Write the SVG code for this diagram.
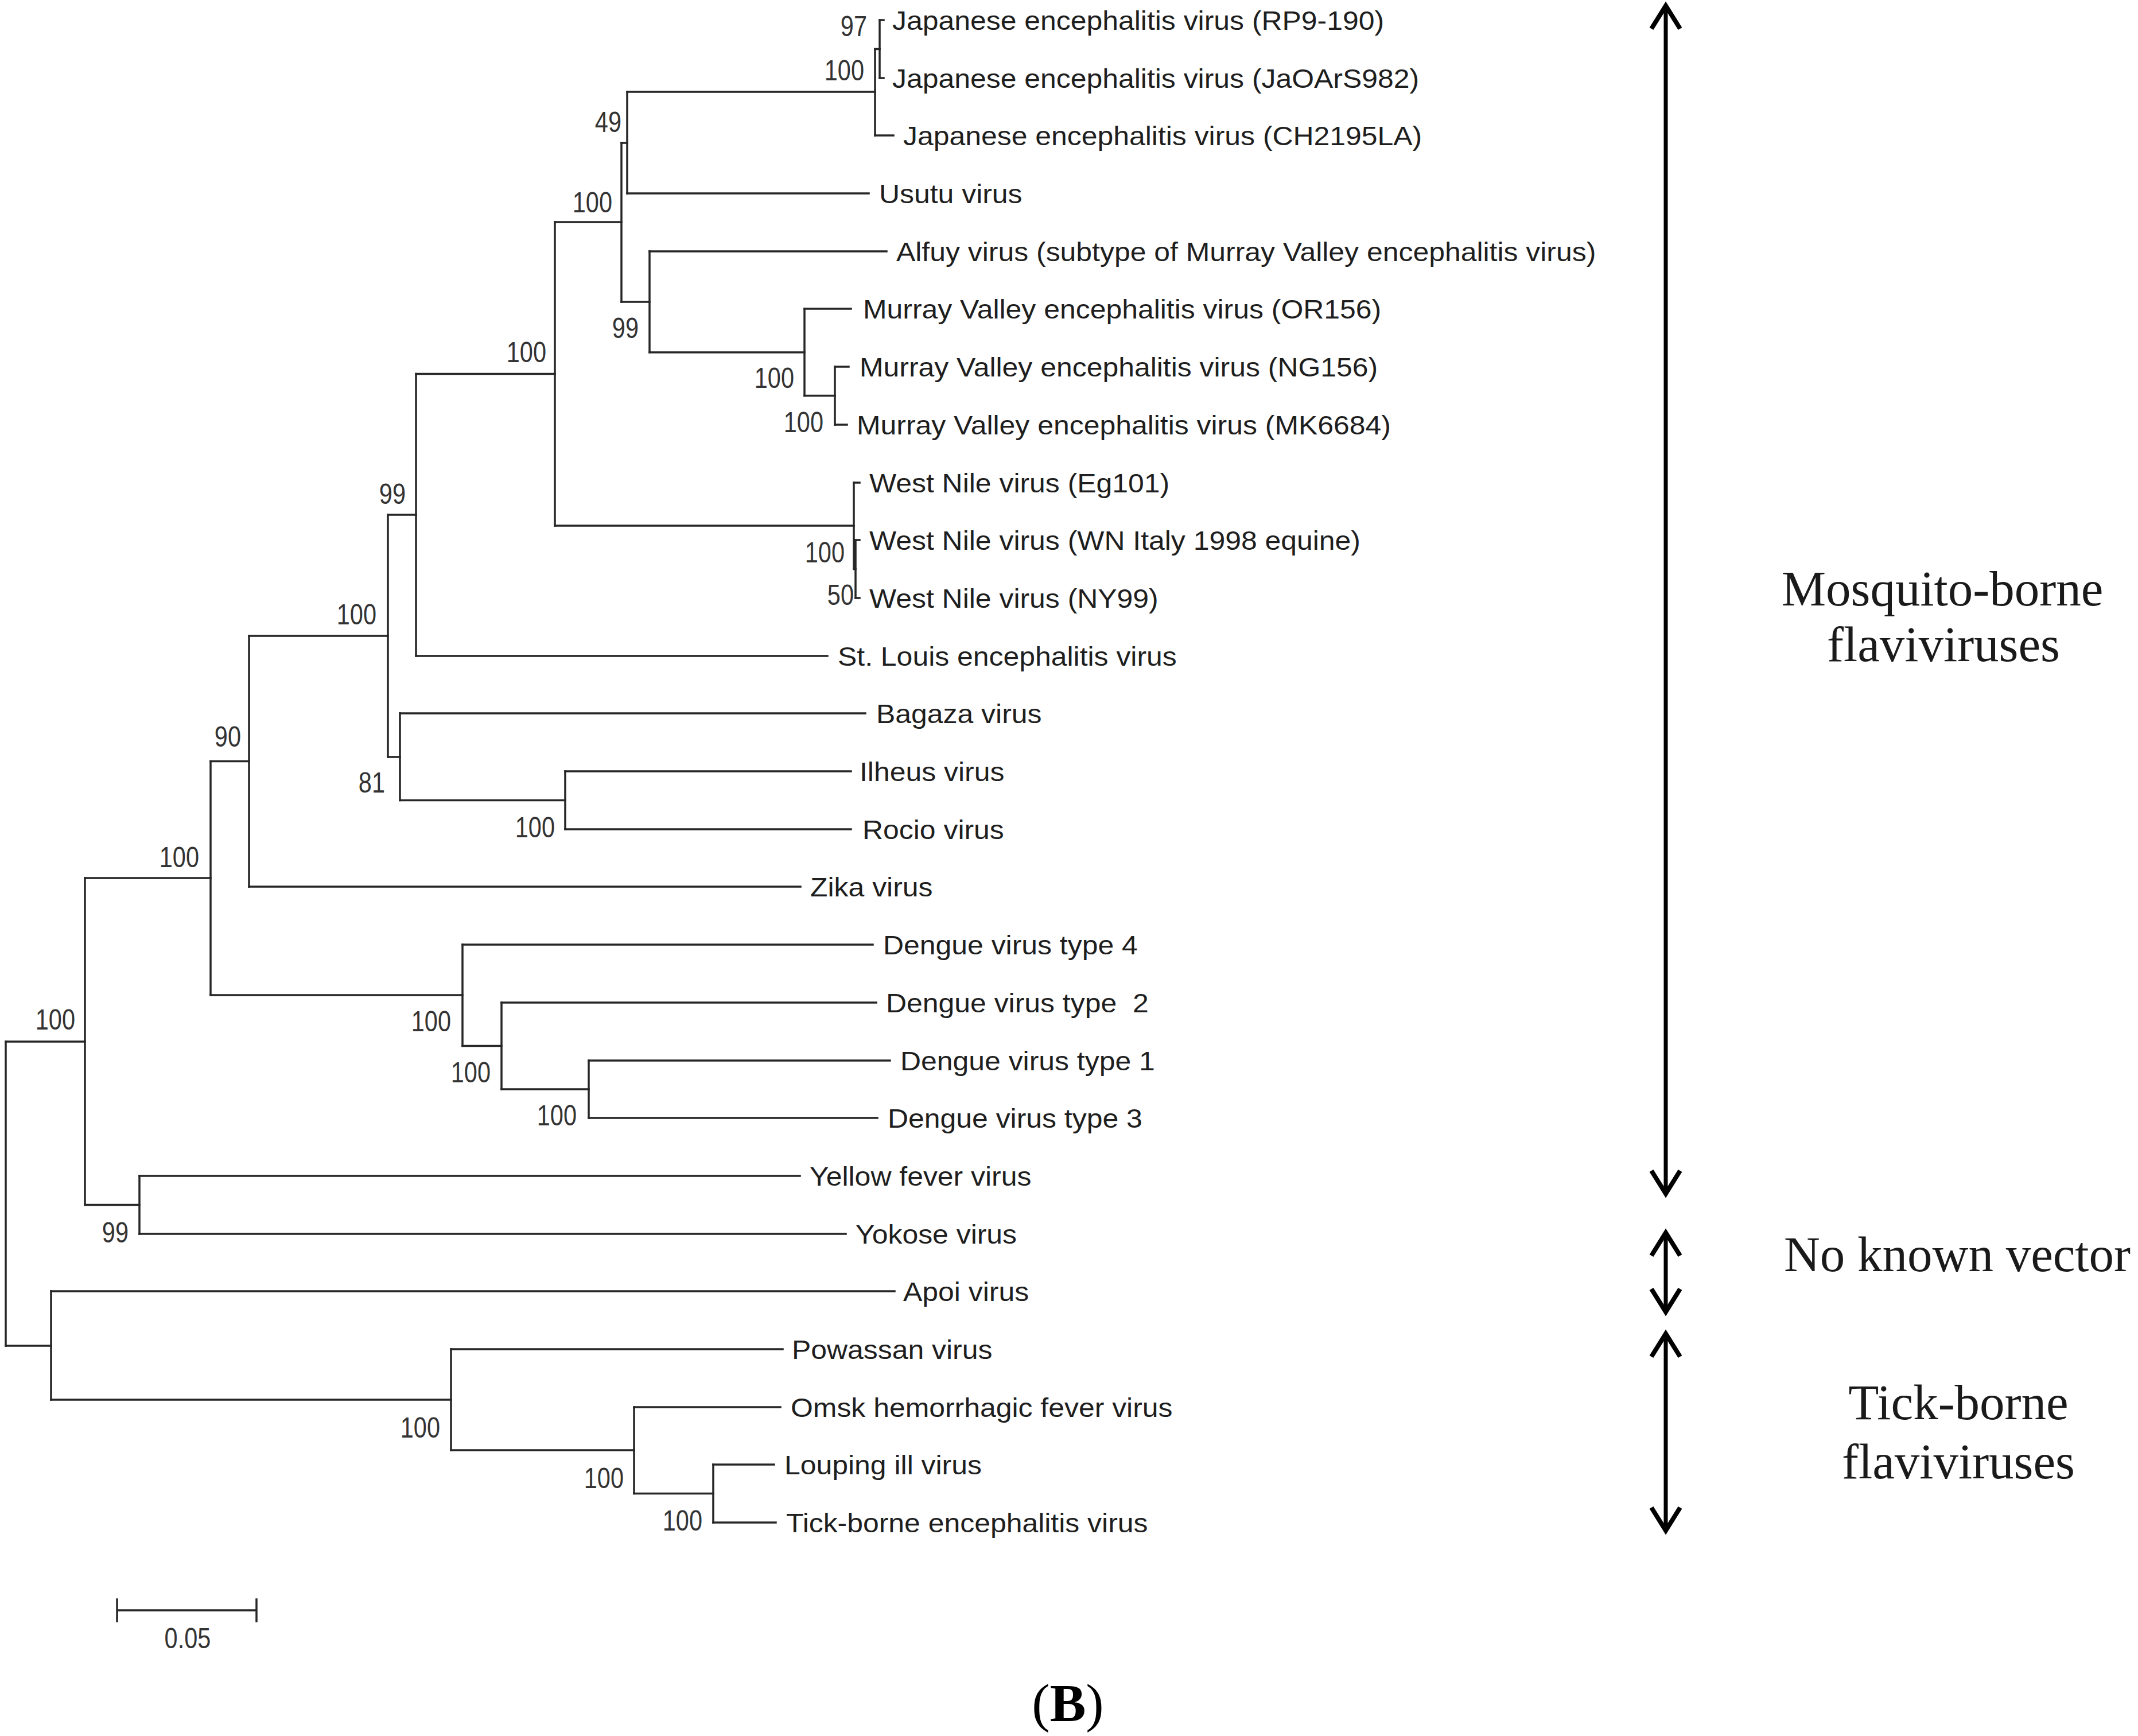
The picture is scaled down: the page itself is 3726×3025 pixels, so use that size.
<svg xmlns="http://www.w3.org/2000/svg" width="3726" height="3025" viewBox="0 0 3726 3025">
<style>
.br{fill:none;stroke:#262626;stroke-width:3.5;stroke-linecap:square}
.leaf{font-family:"Liberation Sans",Arial,sans-serif;font-size:46px;fill:#1e1e1e;white-space:pre}
.bs{font-family:"Liberation Sans",Arial,sans-serif;font-size:50px;fill:#333;text-anchor:end}
.grp{font-family:"Liberation Serif","Times New Roman",serif;font-size:87px;fill:#1a1a1a;text-anchor:middle}
.shaft{fill:none;stroke:#000;stroke-width:7}
.head{fill:none;stroke:#000;stroke-width:8;stroke-linejoin:miter;stroke-miterlimit:10}
</style>
<rect width="3726" height="3025" fill="#fff"/>
<g id="connectors">
<path class="br" d="M10,1815V2345 M148,1530V2099.5 M367,1326.5V1734 M434,1108V1545 M676,897V1319 M725,651.5V1143 M967,387V916 M1083,249V526 M1093,160V337 M1525,85.5V236 M1533,35V136 M1132,438V614 M1402,538V689.5 M1455,639V740 M1488,841V991.5 M1491,941V1042 M697,1243V1394.5 M985,1344V1445 M806,1646V1822.5 M874,1747V1898 M1026,1848V1948 M243,2049V2150 M89,2250V2439 M786,2351V2527 M1105,2452V2602.5 M1243,2552V2653"/>
<path class="br" d="M10,1815H148 M10,2345H89 M148,1530H367 M148,2099.5H243 M367,1326.5H434 M367,1734H806 M434,1108H676 M434,1545H1395 M676,897H725 M676,1319H697 M725,651.5H967 M725,1143H1442 M967,387H1083 M967,916H1488 M1083,249H1093 M1083,526H1132 M1093,160H1525 M1093,337H1514 M1525,85.5H1533 M1525,236H1557 M1533,35H1540 M1533,136H1540 M1132,438H1545 M1132,614H1402 M1402,538H1483 M1402,689.5H1455 M1455,639H1479 M1455,740H1476 M1488,841H1498 M1488,991.5H1491 M1491,941H1498 M1491,1042H1498 M697,1243H1508 M697,1394.5H985 M985,1344H1483 M985,1445H1483 M806,1646H1521 M806,1822.5H874 M874,1747H1527 M874,1898H1026 M1026,1848H1551 M1026,1948H1529 M243,2049H1394 M243,2150H1474 M89,2250H1559 M89,2439H786 M786,2351H1364 M786,2527H1105 M1105,2452H1360 M1105,2602.5H1243 M1243,2552H1349 M1243,2653H1352"/>
</g>
<g id="leaves">
<g id="leaf-je-rp9"><text class="leaf" transform="translate(1555,52) scale(1.085,1)">Japanese encephalitis virus (RP9-190)</text></g>
<g id="leaf-je-jaoars"><text class="leaf" transform="translate(1555,153) scale(1.085,1)">Japanese encephalitis virus (JaOArS982)</text></g>
<g id="leaf-je-ch"><text class="leaf" transform="translate(1574,253) scale(1.085,1)">Japanese encephalitis virus (CH2195LA)</text></g>
<g id="leaf-usutu"><text class="leaf" transform="translate(1532,354) scale(1.085,1)">Usutu virus</text></g>
<g id="leaf-alfuy"><text class="leaf" transform="translate(1562,455) scale(1.085,1)">Alfuy virus (subtype of Murray Valley encephalitis virus)</text></g>
<g id="leaf-mve-or"><text class="leaf" transform="translate(1504,555) scale(1.085,1)">Murray Valley encephalitis virus (OR156)</text></g>
<g id="leaf-mve-ng"><text class="leaf" transform="translate(1498,656) scale(1.085,1)">Murray Valley encephalitis virus (NG156)</text></g>
<g id="leaf-mve-mk"><text class="leaf" transform="translate(1493,757) scale(1.085,1)">Murray Valley encephalitis virus (MK6684)</text></g>
<g id="leaf-wn-eg"><text class="leaf" transform="translate(1515,858) scale(1.085,1)">West Nile virus (Eg101)</text></g>
<g id="leaf-wn-it"><text class="leaf" transform="translate(1515,958) scale(1.085,1)">West Nile virus (WN Italy 1998 equine)</text></g>
<g id="leaf-wn-ny"><text class="leaf" transform="translate(1515,1059) scale(1.085,1)">West Nile virus (NY99)</text></g>
<g id="leaf-stl"><text class="leaf" transform="translate(1460,1160) scale(1.085,1)">St. Louis encephalitis virus</text></g>
<g id="leaf-bagaza"><text class="leaf" transform="translate(1527,1260) scale(1.085,1)">Bagaza virus</text></g>
<g id="leaf-ilheus"><text class="leaf" transform="translate(1498,1361) scale(1.085,1)">Ilheus virus</text></g>
<g id="leaf-rocio"><text class="leaf" transform="translate(1503,1462) scale(1.085,1)">Rocio virus</text></g>
<g id="leaf-zika"><text class="leaf" transform="translate(1412,1562) scale(1.085,1)">Zika virus</text></g>
<g id="leaf-den4"><text class="leaf" transform="translate(1539,1663) scale(1.085,1)">Dengue virus type 4</text></g>
<g id="leaf-den2"><text class="leaf" transform="translate(1544,1764) scale(1.085,1)">Dengue virus type  2</text></g>
<g id="leaf-den1"><text class="leaf" transform="translate(1569,1865) scale(1.085,1)">Dengue virus type 1</text></g>
<g id="leaf-den3"><text class="leaf" transform="translate(1547,1965) scale(1.085,1)">Dengue virus type 3</text></g>
<g id="leaf-yf"><text class="leaf" transform="translate(1411,2066) scale(1.085,1)">Yellow fever virus</text></g>
<g id="leaf-yokose"><text class="leaf" transform="translate(1491,2167) scale(1.085,1)">Yokose virus</text></g>
<g id="leaf-apoi"><text class="leaf" transform="translate(1574,2267) scale(1.085,1)">Apoi virus</text></g>
<g id="leaf-powassan"><text class="leaf" transform="translate(1380,2368) scale(1.085,1)">Powassan virus</text></g>
<g id="leaf-omsk"><text class="leaf" transform="translate(1378,2469) scale(1.085,1)">Omsk hemorrhagic fever virus</text></g>
<g id="leaf-louping"><text class="leaf" transform="translate(1367,2569) scale(1.085,1)">Louping ill virus</text></g>
<g id="leaf-tbe"><text class="leaf" transform="translate(1370,2670) scale(1.085,1)">Tick-borne encephalitis virus</text></g>
</g>
<g id="bootstrap">
<g id="n-je-sub"><text class="bs" transform="translate(1511,63) scale(0.83,1)">97</text></g>
<g id="n-je"><text class="bs" transform="translate(1506,140) scale(0.83,1)">100</text></g>
<g id="n-49"><text class="bs" transform="translate(1083,230) scale(0.83,1)">49</text></g>
<g id="n-100a"><text class="bs" transform="translate(1067,370) scale(0.83,1)">100</text></g>
<g id="n-99a"><text class="bs" transform="translate(1113,589) scale(0.83,1)">99</text></g>
<g id="n-mve"><text class="bs" transform="translate(1384,676) scale(0.83,1)">100</text></g>
<g id="n-ngmk"><text class="bs" transform="translate(1435,753) scale(0.83,1)">100</text></g>
<g id="n-100b"><text class="bs" transform="translate(952,631) scale(0.83,1)">100</text></g>
<g id="n-99b"><text class="bs" transform="translate(707,878) scale(0.83,1)">99</text></g>
<g id="n-wn"><text class="bs" transform="translate(1472,980) scale(0.83,1)">100</text></g>
<g id="n-wn-sub"><text class="bs" transform="translate(1488,1054) scale(0.83,1)">50</text></g>
<g id="n-100c"><text class="bs" transform="translate(656,1088) scale(0.83,1)">100</text></g>
<g id="n-81"><text class="bs" transform="translate(671,1381) scale(0.83,1)">81</text></g>
<g id="n-ir"><text class="bs" transform="translate(967,1459) scale(0.83,1)">100</text></g>
<g id="n-90"><text class="bs" transform="translate(420,1301) scale(0.83,1)">90</text></g>
<g id="n-367"><text class="bs" transform="translate(347,1511) scale(0.83,1)">100</text></g>
<g id="n-den"><text class="bs" transform="translate(786,1797) scale(0.83,1)">100</text></g>
<g id="n-den-b"><text class="bs" transform="translate(855,1886) scale(0.83,1)">100</text></g>
<g id="n-den-c"><text class="bs" transform="translate(1005,1961) scale(0.83,1)">100</text></g>
<g id="n-148"><text class="bs" transform="translate(131,1794) scale(0.83,1)">100</text></g>
<g id="n-yf"><text class="bs" transform="translate(224,2165) scale(0.83,1)">99</text></g>
<g id="n-tick"><text class="bs" transform="translate(767,2505) scale(0.83,1)">100</text></g>
<g id="n-tick-b"><text class="bs" transform="translate(1087,2593) scale(0.83,1)">100</text></g>
<g id="n-tick-c"><text class="bs" transform="translate(1224,2667) scale(0.83,1)">100</text></g>
</g>
<g id="scale-bar">
<path class="br" d="M204,2806H447 M204,2787V2825 M447,2787V2825"/>
<text class="bs" style="text-anchor:middle" transform="translate(327,2872) scale(0.83,1)">0.05</text>
</g>
<g id="group-mosquito">
<path class="shaft" d="M2903,14V2076"/>
<path class="head" d="M2878,50L2903,10L2928,50 M2878,2040L2903,2080L2928,2040"/>
<text class="grp" x="3385" y="1055">Mosquito-borne</text>
<text class="grp" x="3387" y="1152">flaviviruses</text>
</g>
<g id="group-novector">
<path class="shaft" d="M2903,2152V2282"/>
<path class="head" d="M2878,2188L2903,2148L2928,2188 M2878,2246L2903,2286L2928,2246"/>
<text class="grp" x="3411" y="2215">No known vector</text>
</g>
<g id="group-tick">
<path class="shaft" d="M2903,2328V2661"/>
<path class="head" d="M2878,2364L2903,2324L2928,2364 M2878,2627L2903,2667L2928,2627"/>
<text class="grp" x="3413" y="2473">Tick-borne</text>
<text class="grp" x="3413" y="2576">flaviviruses</text>
</g>
<g id="caption">
<text x="1861" y="2999" style="font-family:'Liberation Serif','Times New Roman',serif;font-size:94px;fill:#000;text-anchor:middle">(<tspan font-weight="bold">B</tspan>)</text>
</g>
</svg>
